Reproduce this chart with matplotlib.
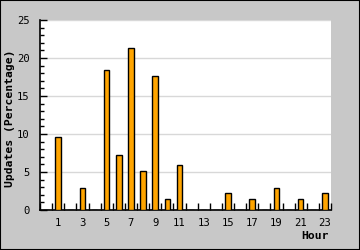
import numpy as np
import matplotlib
matplotlib.use('Agg')
import matplotlib.pyplot as plt
from matplotlib.patches import Rectangle

# hourly share of updates (percent)
hours = np.arange(24)
updates = [0, 9.6, 0, 2.9, 0, 18.4, 7.3, 21.3, 5.1, 17.6, 1.4, 5.9,
           0, 0, 0, 2.2, 0, 1.4, 0, 2.9, 0, 1.4, 0, 2.2]
xlabels = [str(h) for h in range(1, 24, 2)]

font = 'DejaVu Sans Mono'

fig = plt.figure(figsize=(3.6, 2.5), dpi=100, facecolor='#c8c8c8')
ax = fig.add_axes([40/360, 40/250, 291/360, 190/250])
ax.set_facecolor('white')

ax.bar(hours, updates, width=0.45, color='#ffa500', edgecolor='black',
       linewidth=1.0, zorder=3)

ax.set_xlim(-0.5, 23.5)
ax.set_ylim(0, 25)

ax.set_yticks(np.arange(0, 26, 5))
ax.set_yticks(np.arange(0, 26, 1), minor=True)
ax.yaxis.grid(True, which='major', color='#d8d8d8', linewidth=1.0, zorder=0)

# x ticks at category boundaries, labels on odd hours
ax.set_xticks(np.arange(-0.5, 24, 1))
ax.set_xticklabels([])
ax.set_xticks(np.arange(1, 24, 2), minor=True)
ax.set_xticklabels(xlabels, minor=True)
ax.tick_params(axis='x', which='major', direction='in', length=5, width=1)
ax.tick_params(axis='x', which='minor', length=0, pad=6)
ax.tick_params(axis='y', which='major', direction='in', length=5, width=1, pad=7.5)
ax.tick_params(axis='y', which='minor', direction='in', length=3, width=1)

for lab in ax.get_xticklabels(minor=True) + ax.get_yticklabels():
    lab.set_family(font)
    lab.set_fontsize(7.6)

for s in ['top', 'right']:
    ax.spines[s].set_visible(False)
ax.spines['left'].set_linewidth(1.2)
ax.spines['bottom'].set_linewidth(1.2)

fig.text(10/360, 1 - 118/250, 'Updates (Percentage)', rotation=90,
         ha='center', va='center', family=font, fontweight='bold', fontsize=8.2)
fig.text(329/360, 1 - 236/250, 'Hour', ha='right', va='center',
         family=font, fontweight='bold', fontsize=8.2)

fig.patches.append(Rectangle((0, 0), 1, 1, transform=fig.transFigure,
                             fill=False, edgecolor='black', linewidth=1.5))

fig.savefig('out.png', dpi=100, facecolor=fig.get_facecolor())
